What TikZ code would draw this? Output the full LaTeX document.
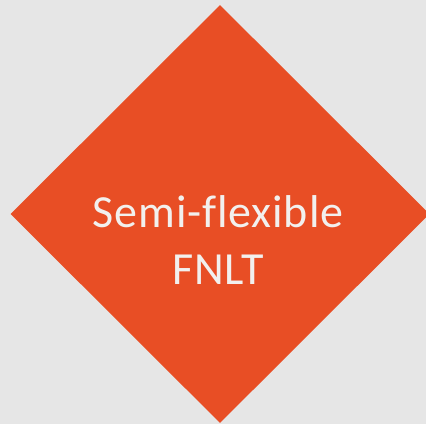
\documentclass[tikz,border=0pt]{standalone}
\usepackage{fontspec}
\setmainfont{Carlito}[Ligatures=NoCommon]
\usetikzlibrary{shapes.geometric}
\definecolor{bggray}{HTML}{E6E6E6}
\definecolor{diamondred}{HTML}{E84E25}
\definecolor{labelwhite}{HTML}{F2F0EE}
\tikzset{
  bigdiamond/.style={diamond, fill=diamondred, draw=none, inner sep=0pt,
    minimum width=419pt, minimum height=418pt},
  labeltext/.style={text=labelwhite, align=center, inner sep=0pt,
    font=\fontsize{46}{57}\selectfont\addfontfeature{LetterSpace=2}}
}
\begin{document}
\begin{tikzpicture}[x=1pt,y=1pt]
\useasboundingbox (0,0) rectangle (426,424);
\clip (0,0) rectangle (426,424);
\fill[bggray] (0,0) rectangle (426,424);
% the diamond
\node[bigdiamond] (shape) at (220,210) {};
\node[labeltext, anchor=base] (label) at (218,140) {Semi-flexible\\FNLT};
\end{tikzpicture}
\end{document}
